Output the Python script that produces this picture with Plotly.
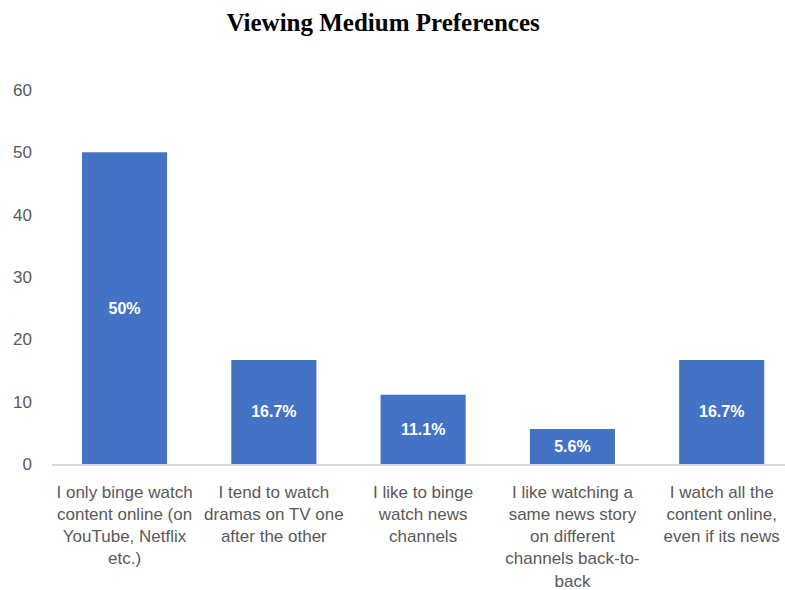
import plotly.graph_objects as go

# Survey responses: share of respondents per viewing habit
categories = [
    "I only binge watch<br>content online (on<br>YouTube, Netflix<br>etc.)",
    "I tend to watch<br>dramas on TV one<br>after the other",
    "I like to binge<br>watch news<br>channels",
    "I like watching a<br>same news story<br>on different<br>channels back-to-<br>back",
    "I watch all the<br>content online,<br>even if its news",
]
values = [50, 16.7, 11.1, 5.6, 16.7]
y_ticks = [0, 10, 20, 30, 40, 50, 60]

BAR_COLOR = "#4472C4"
AXIS_TEXT = "#595959"
SANS = "Liberation Sans, Arial, sans-serif"

fig = go.Figure(
    go.Bar(
        x=list(range(len(categories))),
        y=values,
        width=0.57,
        marker=dict(color=BAR_COLOR, line=dict(width=0)),
        texttemplate="%{y}%",
        textposition="inside",
        insidetextanchor="middle",
        textangle=0,
        insidetextfont=dict(family=SANS, size=16, color="white", weight="bold"),
        hoverinfo="skip",
    )
)

fig.update_layout(
    width=785,
    height=590,
    margin=dict(l=52, r=0, t=90, b=126),
    paper_bgcolor="white",
    plot_bgcolor="white",
    showlegend=False,
    title=dict(
        text="<b>Viewing Medium Preferences</b>",
        x=0.488,
        xanchor="center",
        y=0.963,
        yanchor="middle",
        font=dict(family="Liberation Serif, Times New Roman, serif", size=25, color="black"),
    ),
    uniformtext=dict(mode=False),
)

fig.update_xaxes(
    range=[-0.486, 4.424],
    tickvals=list(range(len(categories))),
    ticktext=categories,
    tickangle=0,
    showgrid=False,
    zeroline=False,
    showline=True,
    linecolor="#D9D9D9",
    linewidth=1.5,
    ticks="",
    ticklabelstandoff=12,
    tickfont=dict(family=SANS, size=17, color=AXIS_TEXT),
    fixedrange=True,
)

fig.update_yaxes(
    range=[0, 60],
    tickvals=y_ticks,
    showgrid=False,
    zeroline=False,
    showline=False,
    ticks="",
    ticklabelstandoff=19,
    tickfont=dict(family=SANS, size=17, color=AXIS_TEXT),
    fixedrange=True,
)

fig.write_html("out.html")
